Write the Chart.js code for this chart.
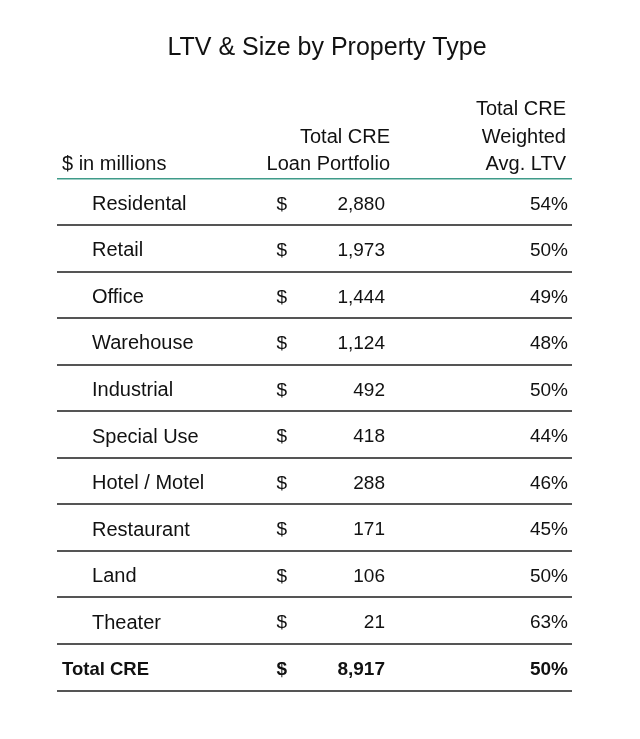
<!DOCTYPE html>
<html>
<head>
<meta charset="utf-8">
<script src="https://cdn.jsdelivr.net/npm/chart.js@4/dist/chart.umd.min.js"></script>
<style>
  html, body { margin: 0; padding: 0; background: #fff; }
  #wrap { width: 640px; height: 739px; }
</style>
</head>
<body>
<div id="wrap"><canvas id="c" width="640" height="739"></canvas></div>
<script>
const propertyTypes = ["Residental", "Retail", "Office", "Warehouse", "Industrial", "Special Use", "Hotel / Motel", "Restaurant", "Land", "Theater"];
const loanPortfolio = [2880, 1973, 1444, 1124, 492, 418, 288, 171, 106, 21];
const weightedLtv = [54, 50, 49, 48, 50, 44, 46, 45, 50, 63];
const totalLabel = "Total CRE";
const totalLoans = 8917;
const totalLtv = 50;

const titleText = "LTV & Size by Property Type";
const unitsLabel = "$ in millions";
const loanHeader = ["Total CRE", "Loan Portfolio"];
const ltvHeader = ["Total CRE", "Weighted", "Avg. LTV"];

const rowLabels = [...propertyTypes, totalLabel];
const loanValues = [...loanPortfolio, totalLoans];
const ltvValues = [...weightedLtv, totalLtv];

// column anchors as fraction of the plot width
const COL = { label: 0.068, total: 0.0097, dollar: 0.4262, amount: 0.6369, head: 0.6466, ltv: 0.9922, headLtv: 0.9883 };
const FONT = '"Liberation Sans", Arial, sans-serif';
const INK = "#111";

const fmt = (n) => n.toLocaleString("en-US");

const tablePlugin = {
  id: "tableText",
  afterDatasetsDraw(chart) {
    const { ctx, chartArea, scales } = chart;
    const x = scales.x;
    const last = rowLabels.length - 1;
    ctx.save();
    ctx.fillStyle = INK;
    ctx.textBaseline = "middle";

    // title
    ctx.font = `25px ${FONT}`;
    ctx.textAlign = "center";
    ctx.fillText(titleText, chart.width / 2 + 7, chartArea.top - 130);

    // column headers
    ctx.font = `20px ${FONT}`;
    const lh = 27.5, base = chartArea.top - 14;
    ctx.textAlign = "left";
    ctx.fillText(unitsLabel, x.getPixelForValue(COL.total), base);
    ctx.textAlign = "right";
    loanHeader.forEach((t, i) => ctx.fillText(t, x.getPixelForValue(COL.head), base - (loanHeader.length - 1 - i) * lh));
    ltvHeader.forEach((t, i) => ctx.fillText(t, x.getPixelForValue(COL.headLtv), base - (ltvHeader.length - 1 - i) * lh));

    // body cells, positioned by the dataset points
    chart.data.datasets.forEach((ds, di) => {
      const meta = chart.getDatasetMeta(di);
      meta.data.forEach((pt, i) => {
        const bold = i === last;
        const size = ds.isText ? (bold ? 18.5 : 20) : 19;
        ctx.font = `${bold ? "bold " : ""}${size}px ${FONT}`;
        ctx.textAlign = ds.align;
        ctx.fillText(ds.cellText(i), pt.x, pt.y + 2.5);
      });
    });
    ctx.restore();
  }
};

const col = (key, i) => (i === rowLabels.length - 1 && key === "label" ? COL.total : COL[key]);

new Chart(document.getElementById("c"), {
  type: "scatter",
  data: {
    datasets: [
      {
        label: "Property Type",
        data: rowLabels.map((r, i) => ({ x: col("label", i), y: r })),
        align: "left",
        isText: true,
        cellText: (i) => rowLabels[i],
      },
      {
        label: "$",
        data: rowLabels.map((r) => ({ x: COL.dollar, y: r })),
        align: "left",
        cellText: () => "$",
      },
      {
        label: "Total CRE Loan Portfolio",
        data: loanValues.map((v, i) => ({ x: COL.amount, y: rowLabels[i] })),
        align: "right",
        cellText: (i) => fmt(loanValues[i]),
      },
      {
        label: "Total CRE Weighted Avg. LTV",
        data: ltvValues.map((v, i) => ({ x: COL.ltv, y: rowLabels[i] })),
        align: "right",
        cellText: (i) => ltvValues[i] + "%",
      },
    ].map((d) => ({ ...d, pointRadius: 0, pointHoverRadius: 0 })),
  },
  options: {
    responsive: false,
    animation: false,
    events: [],
    layout: { padding: { top: 178.5, bottom: 48.5, left: 57, right: 68 } },
    plugins: {
      legend: { display: false },
      tooltip: { enabled: false },
      title: { display: false },
    },
    scales: {
      x: { type: "linear", min: 0, max: 1, display: false },
      y: {
        type: "category",
        labels: rowLabels,
        offset: true,
        border: { display: false },
        ticks: { display: false },
        grid: {
          offset: true,
          drawTicks: false,
          color: (c) => (c.index === 0 ? "#3f9b89" : "#555"),
          lineWidth: (c) => (c.index === 0 ? 1.5 : 2),
        },
      },
    },
  },
  plugins: [tablePlugin],
});
</script>
</body>
</html>
